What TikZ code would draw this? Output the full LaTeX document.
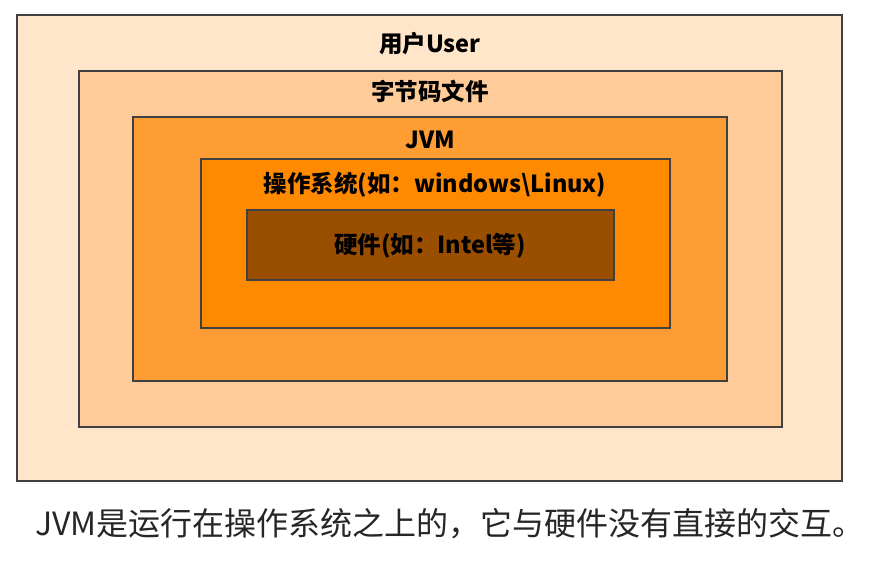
\documentclass[tikz,border=0pt]{standalone}
\usepackage{fontspec}
\newfontfamily\cjk{Noto Sans CJK SC}
\definecolor{c1}{HTML}{FFE6CA}
\definecolor{c2}{HTML}{FFCB98}
\definecolor{c3}{HTML}{FF9D35}
\definecolor{c4}{HTML}{FF8A00}
\definecolor{c5}{HTML}{9A4E00}
\definecolor{bd}{HTML}{404040}
\tikzset{
  layer/.style={draw=bd, line width=1.8pt},
  lbl/.style={font=\cjk\bfseries\fontsize{23.5}{28}\selectfont, text=black, inner sep=0pt},
}
\begin{document}
\begin{tikzpicture}[x=1pt,y=-1pt]
\useasboundingbox[fill=white] (0,0) rectangle (884,564);
\filldraw[layer, fill=c1] (17,15) rectangle (842,481);
\filldraw[layer, fill=c2] (79,71) rectangle (782,427);
\filldraw[layer, fill=c3] (133,117) rectangle (727,381);
\filldraw[layer, fill=c4] (201,159) rectangle (670,328);
\filldraw[layer, fill=c5] (247,210) rectangle (614,280);
\node[lbl] (user) at (430,44) {用户User};
\node[lbl] (byte) at (430,91) {字节码文件};
\node[lbl] (jvm) at (430,140) {JVM};
\node[lbl] (os) at (435,185) {操作系统(如：windows\textbackslash Linux)};
\node[lbl] (hw) at (430,246) {硬件(如：Intel等)};
\node[font=\cjk\fontsize{32}{36}\selectfont, inner sep=0pt, text=black!85] (note) at (450,524) {JVM是运行在操作系统之上的，它与硬件没有直接的交互。};
\end{tikzpicture}
\end{document}
